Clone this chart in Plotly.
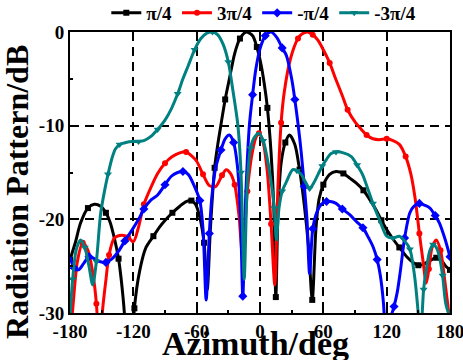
import plotly.graph_objects as go

# ---- data (azimuth in deg, radiation pattern in dB) ----
labels = ["π/4", "3π/4", "-π/4", "-3π/4"]

az_pi4 = [-180, -175, -170, -163, -157, -151, -146, -142, -138, -134, -131.5, -128.5, -124, -119, -114, -108, -101, -95, -89,
          -83, -76, -70, -65, -61, -57, -53, -50, -47, -43, -40, -37, -33, -29, -24, -19, -13, -7, -3, 1, 4, 7, 10.5, 13, 15,
          17, 20, 24, 28, 33, 37.5, 42, 46, 49.5, 53, 56, 60, 66, 72, 79, 85, 91, 98, 104, 110, 115, 120, 126, 132, 139, 145,
          150, 155, 161, 167, 172, 176, 180]
db_pi4 = [-24.3, -22.5, -20.4, -18.8, -18.4, -18.6, -19.3, -20.3, -22.0, -24.2, -26.4, -30, -40, -29.5, -25.5, -23.0, -21.8, -20.8, -20.0,
          -19.3, -18.6, -18.1, -18.0, -18.4, -19.8, -22.5, -27.5, -21.0, -14.5, -12.0, -9.9, -7.2, -5.0, -2.3, -0.7, 0.0, -0.4, -1.6, -3.5, -5.5, -8.1, -12.9, -18.5, -28.3,
          -19.5, -14.0, -11.8, -11.0, -12.0, -14.7, -18.5, -23.0, -28.6, -21.0, -17.8, -16.3, -15.2, -14.9, -15.1, -15.6, -16.1, -16.9, -17.9, -19.0, -20.1, -21.1, -22.1, -23.0, -24.0, -24.6,
          -24.9, -24.8, -24.4, -24.1, -24.4, -25.0, -25.4]

az_3pi4 = [-180, -177, -173, -168, -163, -158, -155, -152, -149, -146, -143, -138, -131, -125, -120, -115, -110, -103, -97, -90,
           -83, -76, -70, -65, -60, -54, -48, -42, -36, -32, -28, -24, -20, -16.5, -12, -8, -4, -1, 3, 7, 10.5, 14,
           17, 20, 23, 29, 36, 40, 45, 50, 55, 60, 66, 72, 78, 83, 90, 96, 101, 107, 113, 120, 126, 132, 138, 143,
           147, 151, 154.5, 157.5, 160, 163, 167, 171, 175, 180]
db_3pi4 = [-33, -29, -24.5, -22.5, -23.3, -26.0, -29.0, -34, -29.5, -26.5, -23.8, -22.0, -21.7, -21.9, -22.4, -20.8, -18.4, -16.5, -15.1, -14.0,
           -13.3, -12.9, -12.8, -13.2, -13.8, -15.2, -16.4, -16.5, -15.3, -14.7, -15.1, -16.3, -19.5, -24.0, -17.0, -13.3, -11.3, -10.8, -11.8, -15.0, -20.5, -27.0,
           -16.5, -9.7, -6.4, -2.8, -0.7, -0.2, 0.0, -0.3, -0.9, -1.9, -3.3, -5.1, -6.8, -8.3, -9.6, -10.4, -11.0, -11.4, -11.5, -11.4, -11.6, -12.0, -13.3, -15.2,
           -17.8, -21.5, -24.5, -26.8, -25.3, -23.0, -22.2, -23.3, -26.5, -31.0]

az_mpi4 = [-180, -176, -172, -167, -162, -157, -152, -146, -140, -134, -128, -121, -115, -110, -103, -97, -90, -84, -78, -73,
           -68, -62, -57, -54, -51, -48, -45.5, -42, -37, -33, -29, -25, -21.5, -18.5, -16.3, -13.5, -10, -7, -4, 0,
           5, 10.5, 16, 21, 25, 30, 33, 36, 39, 42, 44.5, 47, 50, 54, 58, 63, 67, 72, 78, 85, 91, 97.5, 103, 107, 111,
           114, 117, 120.5, 124, 127, 130, 133, 137, 142, 146, 151, 156, 161, 166, 170, 175, 180]
db_mpi4 = [-24.0, -25.2, -25.4, -24.7, -24.0, -24.2, -24.5, -24.6, -24.2, -23.4, -22.3, -21.1, -20.0, -18.9, -17.9, -17.4, -16.3, -15.4, -15.0, -14.9,
           -15.2, -16.5, -18.0, -21.0, -28.6, -21.5, -17.5, -14.5, -12.6, -11.4, -11.0, -11.8, -14.2, -19.5, -28.2, -17.5, -9.9, -6.7, -4.0, -1.8,
           -0.4, 0.0, -0.6, -1.7, -2.5, -5.0, -7.2, -9.8, -12.8, -16.5, -20.0, -25.8, -21.0, -19.2, -18.4, -18.1, -18.1, -18.3, -18.9, -19.5, -20.2, -20.9, -22.0, -22.9, -24.3,
           -26.0, -29.0, -36, -30.5, -29.3, -27.8, -25.5, -22.0, -19.3, -18.6, -18.3, -18.5, -18.8, -19.6, -20.4, -22.0, -24.0]

az_m3pi4 = [-180, -177.5, -174, -170, -166, -162, -158.5, -155, -151, -147, -144, -140, -137, -133, -127, -121, -115, -110,
            -104, -97, -90, -84, -78, -73, -68, -62, -56, -50, -45, -40, -35, -30, -26, -21, -18, -15, -12, -9, -5, -1,
            3, 6.5, 10, 13.5, 15.5, 18, 21, 25, 31, 35, 39, 43, 47, 51, 55, 59, 63, 67, 72, 79, 86.5, 92, 97.5, 102,
            107, 113, 120, 126, 132, 137, 142, 146.5, 149.5, 152, 155, 158, 161, 164, 167, 170, 173, 176, 180]
db_m3pi4 = [-30.5, -26.4, -23.2, -22.2, -23.0, -25.0, -27.0, -24.5, -19.4, -16.8, -15.2, -13.4, -12.5, -12.0, -11.8, -11.7, -11.7, -11.6,
            -11.2, -10.4, -9.4, -8.2, -6.6, -5.0, -3.6, -1.9, -0.7, -0.1, 0.0, -0.3, -1.3, -3.2, -6.0, -9.9, -15.0, -26.4, -16.0, -12.4, -11.2, -10.8,
            -11.6, -13.3, -15.6, -18.8, -22.2, -18.8, -17.0, -16.0, -14.7, -14.8, -15.2, -16.0, -16.7, -16.1, -15.2, -14.3, -13.6, -13.0, -12.8, -12.9, -13.3, -14.2, -15.3, -16.7,
            -18.3, -20.0, -21.8, -22.0, -21.8, -22.3, -23.2, -26.1, -29.5, -33, -27.5, -25.0, -23.3, -22.7, -23.0, -24.0, -26.0, -29.0, -30.5]

series = [(az_pi4, db_pi4), (az_3pi4, db_3pi4), (az_mpi4, db_mpi4), (az_m3pi4, db_m3pi4)]
colors = ["#000000", "#ff0000", "#0000ff", "#008080"]
symbols = ["square", "circle", "diamond", "triangle-down"]
msizes = [6, 6, 7, 7]

x_ticks = [-180, -120, -60, 0, 60, 120, 180]
y_ticks = [-30, -20, -10, 0]
x_title = "Azimuth/deg"
y_title = "Radiation Pattern/dB"

FONT = "Liberation Serif"

fig = go.Figure()
for (xs, ys), name, c, s, ms in zip(series, labels, colors, symbols, msizes):
    fig.add_trace(go.Scatter(
        x=xs, y=ys, name=name, mode="lines+markers",
        line=dict(color=c, width=3, shape="spline", smoothing=0.8),
        marker=dict(symbol=s, size=ms, color=c, maxdisplayed=34),
        cliponaxis=True,
    ))

axis_common = dict(
    showline=True, linewidth=2, linecolor="black", mirror=True,
    ticks="inside", ticklen=6, tickwidth=2, tickcolor="black",
    showgrid=True, gridcolor="black", gridwidth=2, griddash="9px,6px",
    zeroline=False, automargin=False, ticklabeloverflow="allow",
    tickfont=dict(family=FONT, size=19, color="black", weight="bold"),
    minor=dict(ticks="inside", ticklen=3, tickwidth=2, tickcolor="black", showgrid=False),
)

fig.update_layout(
    width=463, height=360,
    margin=dict(l=70, r=13, t=32, b=47, autoexpand=False),
    paper_bgcolor="white", plot_bgcolor="white",
    showlegend=True,
    legend=dict(
        orientation="h", x=0.51, xanchor="center", y=1.0, yanchor="bottom",
        font=dict(family=FONT, size=19, color="black", weight="bold"),
        bgcolor="rgba(0,0,0,0)", itemwidth=30, tracegroupgap=0,
    ),
    xaxis=dict(range=[-180, 180], tickvals=x_ticks, ticktext=[str(v) for v in x_ticks], **axis_common),
    yaxis=dict(range=[-30, 0], tickvals=y_ticks, ticktext=[str(v) for v in y_ticks], **axis_common),
    annotations=[
        dict(text=x_title, xref="paper", yref="paper", x=0.488, y=-0.036, xanchor="center", yanchor="top",
             showarrow=False, font=dict(family=FONT, size=34, color="black", weight="bold")),
        dict(text=y_title, xref="paper", yref="paper", x=-0.14, y=0.43, xanchor="center", yanchor="middle",
             textangle=-90, showarrow=False, font=dict(family=FONT, size=32, color="black", weight="bold")),
    ],
)
fig.update_xaxes(minor_dtick=30, minor_tick0=0)
fig.update_yaxes(minor_dtick=5, minor_tick0=0)

fig.write_html("out.html")
